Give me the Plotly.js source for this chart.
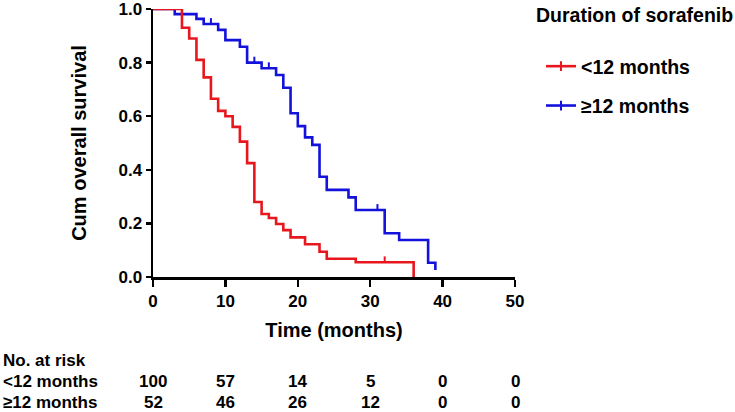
<!DOCTYPE html>
<html>
<head>
<meta charset="utf-8">
<script src="https://cdn.plot.ly/plotly-3.0.1.min.js"></script>
<style>html,body{margin:0;padding:0;background:#fff;}#chart{width:735px;height:412px;}</style>
</head>
<body>
<div id="chart"></div>
<script>
// Kaplan-Meier steps: <12 months
var lowTime = [0, 4, 5, 6, 7, 8, 9, 10, 11, 12, 13, 14, 15, 16, 17, 18, 19, 21, 23, 24, 28, 36];
var lowSurv = [1.0, 0.93, 0.89, 0.81, 0.745, 0.665, 0.62, 0.60, 0.56, 0.505, 0.425, 0.28, 0.235, 0.22, 0.198, 0.175, 0.148, 0.122, 0.094, 0.068, 0.055, 0];
// Kaplan-Meier steps: >=12 months
var highTime = [0, 3, 6, 7, 9, 10, 12, 13, 15, 17, 18, 19, 20, 21, 22, 23, 24, 27, 28, 32, 34, 38, 39];
var highSurv = [1.0, 0.981, 0.963, 0.944, 0.922, 0.884, 0.859, 0.800, 0.779, 0.754, 0.706, 0.611, 0.563, 0.521, 0.493, 0.374, 0.325, 0.297, 0.250, 0.163, 0.138, 0.053, 0.026];
// Censored observations
var lowCensTime = [32];
var lowCensSurv = [0.055];
var highCensTime = [8, 14, 16, 31];
var highCensSurv = [0.944, 0.800, 0.779, 0.250];
// Number at risk table
var riskTimes = [0, 10, 20, 30, 40, 50];
var riskLow = [100, 57, 14, 5, 0, 0];
var riskHigh = [52, 46, 26, 12, 0, 0];
var groupNames = ['<12 months', '\u226512 months'];
var xTicks = [0, 10, 20, 30, 40, 50];
var yTicks = [0, 0.2, 0.4, 0.6, 0.8, 1.0];

var RED = '#e8161d', BLUE = '#1212dc';
var FONT = 'Liberation Sans, Arial, sans-serif';

function censTrace(x, y, color) {
  return {
    x: x, y: y, type: 'scatter', mode: 'markers', showlegend: false, hoverinfo: 'skip',
    marker: {size: 6, opacity: 0, color: color},
    error_y: {type: 'constant', symmetric: false, value: 0.022, valueminus: 0, width: 0, thickness: 2, color: color},
    cliponaxis: false
  };
}

var traces = [
  {x: highTime, y: highSurv, type: 'scatter', mode: 'lines', line: {shape: 'hv', color: BLUE, width: 2.6}, showlegend: false, cliponaxis: false, name: groupNames[1]},
  censTrace(highCensTime, highCensSurv, BLUE),
  {x: lowTime, y: lowSurv, type: 'scatter', mode: 'lines', line: {shape: 'hv', color: RED, width: 2.6}, showlegend: false, cliponaxis: false, name: groupNames[0]},
  censTrace(lowCensTime, lowCensSurv, RED),
  // legend entries
  {x: [null], y: [null], type: 'scatter', mode: 'lines+markers', name: groupNames[0], legendgroup: 'a',
   line: {color: RED, width: 2.6}, marker: {symbol: 'line-ns-open', size: 7, color: RED, line: {width: 2, color: RED}}},
  {x: [null], y: [null], type: 'scatter', mode: 'lines+markers', name: groupNames[1], legendgroup: 'b',
   line: {color: BLUE, width: 2.6}, marker: {symbol: 'line-ns-open', size: 7, color: BLUE, line: {width: 2, color: BLUE}}}
];

var L = 153, R = 515, T = 9, B = 277;
var W = R - L, H = B - T;
function px2x(px) { return (px - L) / W; }
function py2y(py) { return (B - py) / H; }
function bold(size) { return {family: FONT, size: size, color: '#000', weight: 700}; }

var annotations = [];
annotations.push({xref: 'paper', yref: 'paper', x: px2x(534), y: py2y(15), xanchor: 'left', yanchor: 'middle',
  text: 'Duration of sorafenib', showarrow: false, font: bold(19.5)});
annotations.push({xref: 'paper', yref: 'paper', x: px2x(1), y: py2y(360), xanchor: 'left', yanchor: 'middle',
  text: 'No. at risk', showarrow: false, font: bold(17)});
annotations.push({xref: 'paper', yref: 'paper', x: px2x(1), y: py2y(381.5), xanchor: 'left', yanchor: 'middle',
  text: groupNames[0], showarrow: false, font: bold(17)});
annotations.push({xref: 'paper', yref: 'paper', x: px2x(1), y: py2y(402.5), xanchor: 'left', yanchor: 'middle',
  text: groupNames[1], showarrow: false, font: bold(17)});
for (var i = 0; i < riskTimes.length; i++) {
  annotations.push({xref: 'x', yref: 'paper', x: riskTimes[i], y: py2y(381.5), xanchor: 'center', yanchor: 'middle',
    text: String(riskLow[i]), showarrow: false, font: bold(17)});
  annotations.push({xref: 'x', yref: 'paper', x: riskTimes[i], y: py2y(402.5), xanchor: 'center', yanchor: 'middle',
    text: String(riskHigh[i]), showarrow: false, font: bold(17)});
}

var layout = {
  width: 735, height: 412,
  margin: {l: L, r: 735 - R, t: T, b: 412 - B, pad: 0},
  paper_bgcolor: '#fff', plot_bgcolor: '#fff',
  font: {family: FONT, color: '#000'},
  xaxis: {
    range: [0, 50], tickvals: xTicks, ticktext: xTicks.map(String), showgrid: false, zeroline: false,
    showline: true, linecolor: '#000', linewidth: 2.5, ticks: 'outside', ticklen: 7, tickwidth: 2.5, tickcolor: '#000',
    tickfont: bold(17), ticklabeloverflow: 'allow',
    title: {text: 'Time (months)', font: bold(20), standoff: 13},
    fixedrange: true
  },
  yaxis: {
    range: [0, 1], tickvals: yTicks, tickformat: '.1f', showgrid: false, zeroline: false,
    showline: true, linecolor: '#000', linewidth: 2.5, ticks: 'outside', ticklen: 5, tickwidth: 2.5, tickcolor: '#000',
    tickfont: bold(17), ticklabeloverflow: 'allow',
    title: {text: 'Cum overall survival', font: bold(20), standoff: 27},
    fixedrange: true
  },
  showlegend: true,
  legend: {
    x: px2x(541), y: py2y(47), xanchor: 'left', yanchor: 'top',
    font: bold(19.5),
    tracegroupgap: 11, bgcolor: 'rgba(0,0,0,0)', borderwidth: 0
  },
  annotations: annotations
};

Plotly.newPlot('chart', traces, layout, {displayModeBar: false, staticPlot: true});
</script>
</body>
</html>
